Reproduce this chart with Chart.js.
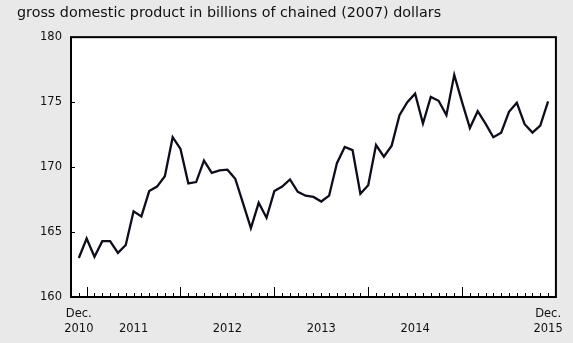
<!DOCTYPE html>
<html>
<head>
<meta charset="utf-8">
<script src="https://cdn.jsdelivr.net/npm/chart.js@4.4.1/dist/chart.umd.min.js"></script>
<style>
  html, body { margin: 0; padding: 0; background: #e9e9e9; }
  #wrap { width: 573px; height: 343px; }
</style>
</head>
<body>
<div id="wrap"><canvas id="gdpChart"></canvas></div>
<script>
// monthly GDP, Dec 2010 - Dec 2015
const months = [
  'Dec 2010',
  'Jan 2011', 'Feb 2011', 'Mar 2011', 'Apr 2011', 'May 2011', 'Jun 2011',
  'Jul 2011', 'Aug 2011', 'Sep 2011', 'Oct 2011', 'Nov 2011', 'Dec 2011',
  'Jan 2012', 'Feb 2012', 'Mar 2012', 'Apr 2012', 'May 2012', 'Jun 2012',
  'Jul 2012', 'Aug 2012', 'Sep 2012', 'Oct 2012', 'Nov 2012', 'Dec 2012',
  'Jan 2013', 'Feb 2013', 'Mar 2013', 'Apr 2013', 'May 2013', 'Jun 2013',
  'Jul 2013', 'Aug 2013', 'Sep 2013', 'Oct 2013', 'Nov 2013', 'Dec 2013',
  'Jan 2014', 'Feb 2014', 'Mar 2014', 'Apr 2014', 'May 2014', 'Jun 2014',
  'Jul 2014', 'Aug 2014', 'Sep 2014', 'Oct 2014', 'Nov 2014', 'Dec 2014',
  'Jan 2015', 'Feb 2015', 'Mar 2015', 'Apr 2015', 'May 2015', 'Jun 2015',
  'Jul 2015', 'Aug 2015', 'Sep 2015', 'Oct 2015', 'Nov 2015', 'Dec 2015',
];

const gdp = [
  163.0,
  164.5, 163.1, 164.3, 164.3, 163.4, 164.0, 166.6, 166.2, 168.15, 168.5, 169.3, 172.3,
  171.4, 168.75, 168.85, 170.5, 169.55, 169.75, 169.8, 169.1, 167.2, 165.3, 167.25, 166.1,
  168.15, 168.5, 169.05, 168.1, 167.8, 167.7, 167.35, 167.8, 170.3, 171.55, 171.3, 167.95,
  168.6, 171.7, 170.8, 171.65, 174.0, 175.0, 175.65, 173.35, 175.4, 175.1, 174.0, 177.1,
  175.0, 173.0, 174.3, 173.35, 172.3, 172.65, 174.25, 174.95, 173.3, 172.65, 173.2, 175.05,
];

// where the x labels sit (month index) and what they say
const xLabelIndex = [0, 7, 19, 31, 43, 60];
const xLabels = [
  ['Dec.', '2010'], ['', '2011'], ['', '2012'], ['', '2013'], ['', '2014'], ['Dec.', '2015'],
];
const yTicks = [160, 165, 170, 175, 180];

const title = 'gross domestic product in billions of chained (2007) dollars';

// white plot area, black frame and the little inward tick marks
const frameAndTicks = {
  id: 'frameAndTicks',
  beforeDraw(chart) {
    const { ctx, chartArea: a } = chart;
    ctx.save();
    ctx.fillStyle = '#ffffff';
    ctx.fillRect(a.left, a.top, a.right - a.left, a.bottom - a.top);
    ctx.restore();
  },
  afterDatasetsDraw(chart) {
    const { ctx, chartArea: a, scales } = chart;
    ctx.save();
    ctx.strokeStyle = '#000000';
    ctx.lineWidth = 1;
    ctx.beginPath();
    months.forEach((m, i) => {
      const x = Math.round(scales.x.getPixelForValue(i)) + 0.5;
      const len = m.startsWith('Jan') ? 10 : 4;
      ctx.moveTo(x, a.bottom);
      ctx.lineTo(x, a.bottom - len);
    });
    yTicks.forEach((v) => {
      const y = Math.round(scales.y.getPixelForValue(v)) + 0.5;
      ctx.moveTo(a.left, y);
      ctx.lineTo(a.left + 4, y);
    });
    ctx.stroke();
    ctx.lineWidth = 2;
    ctx.strokeRect(a.left, a.top, a.right - a.left, a.bottom - a.top);
    ctx.restore();
  },
};

const ctx = document.getElementById('gdpChart');

new Chart(ctx, {
  type: 'line',
  data: {
    datasets: [
      {
        label: 'gdp',
        data: gdp.map((v, i) => ({ x: i, y: v })),
        borderColor: '#0d0d1c',
        borderWidth: 2.3,
        pointRadius: 0,
        tension: 0,
        fill: false,
      },
    ],
  },
  options: {
    responsive: true,
    maintainAspectRatio: false,
    animation: false,
    events: [],
    layout: { padding: { left: 17, right: 17, top: 0, bottom: 6 } },
    plugins: {
      legend: { display: false },
      tooltip: { enabled: false },
      title: {
        display: true,
        text: title,
        align: 'start',
        color: '#111111',
        font: { family: 'DejaVu Sans', size: 14.3, weight: 'normal', lineHeight: 1.2 },
        padding: { top: 5, bottom: 15 },
      },
    },
    scales: {
      x: {
        type: 'linear',
        min: -1,
        max: 61,
        grid: { display: false, drawTicks: false },
        border: { display: false },
        afterBuildTicks: (scale) => {
          scale.ticks = xLabelIndex.map((v) => ({ value: v }));
        },
        afterFit: (scale) => {
          scale.height = 40;
        },
        ticks: {
          autoSkip: false,
          maxRotation: 0,
          padding: 10,
          color: '#111111',
          font: { family: 'DejaVu Sans', size: 11.5, lineHeight: '15px' },
          callback: (value) => xLabels[xLabelIndex.indexOf(value)],
        },
      },
      y: {
        min: 160,
        max: 180,
        grid: { display: false, drawTicks: false },
        border: { display: false },
        afterFit: (scale) => {
          scale.width = 54;
        },
        ticks: {
          stepSize: 5,
          padding: 9,
          color: '#111111',
          font: { family: 'DejaVu Sans', size: 11.5 },
        },
      },
    },
  },
  plugins: [frameAndTicks],
});
</script>
</body>
</html>
